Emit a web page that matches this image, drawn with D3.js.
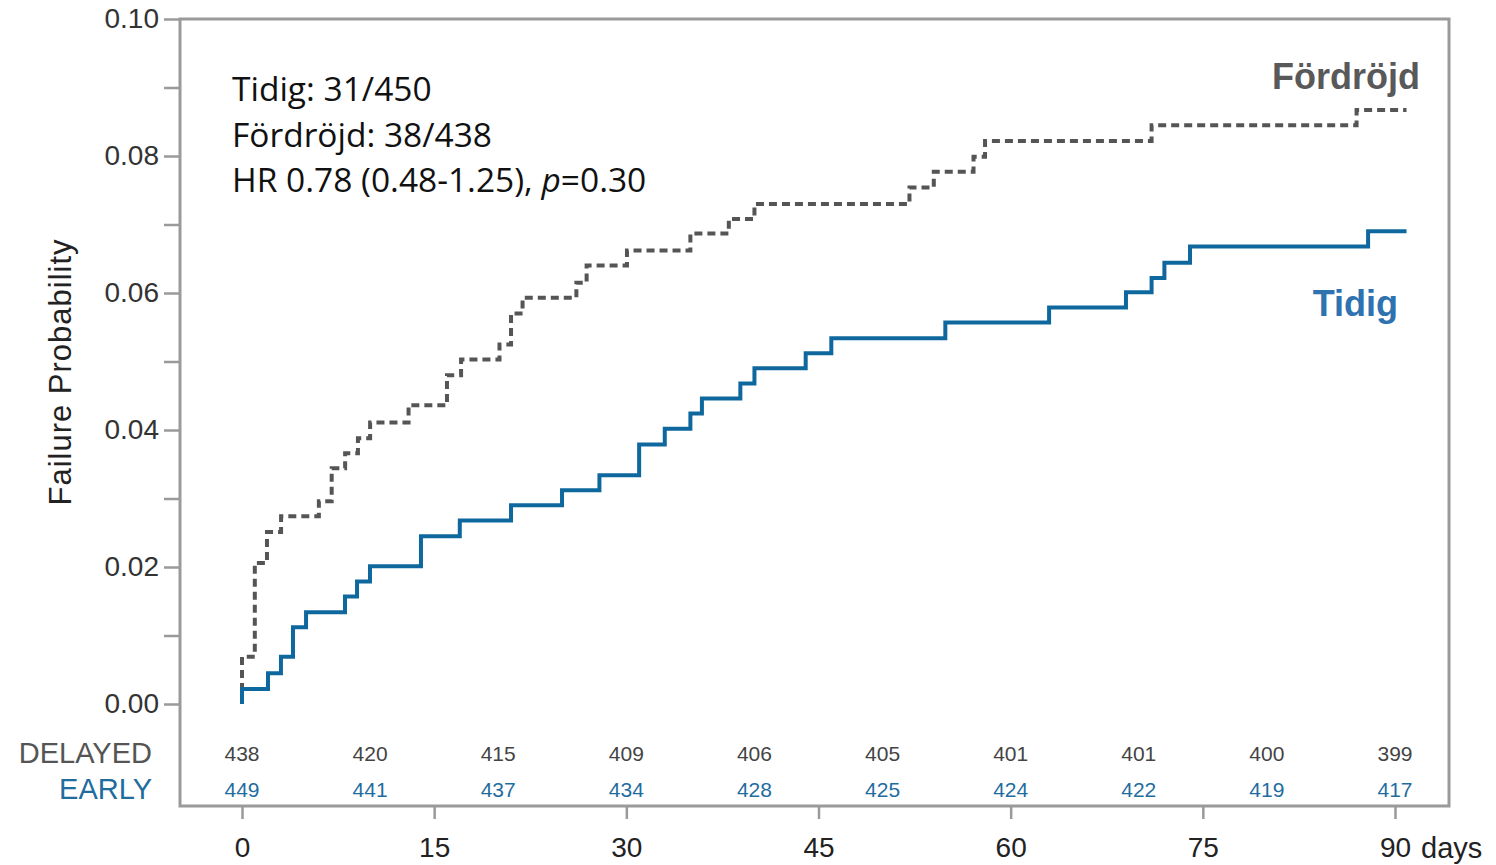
<!doctype html>
<html lang="sv">
<head>
<meta charset="utf-8">
<title>Failure Probability</title>
<script src="https://cdn.jsdelivr.net/npm/d3@7"></script>
<style>
  body { margin: 0; background: #fff; }
  svg text { font-family: "Liberation Sans", Arial, sans-serif; }
</style>
</head>
<body>
<script>
// Fördröjd (delayed) curve: step times (days) and cumulative failure probability
var delayedDays = [0, 0, 1, 1.95, 3.05, 6, 7, 8.05, 9.05, 10, 13, 16, 17.1, 20.1, 21, 21.9, 26.1, 26.9, 30.05, 35, 38, 40, 52.1, 54, 57.1, 58, 71, 87, 90.9];
var delayedProb = [0, 0.0069, 0.0206, 0.0251, 0.0274, 0.0296, 0.0344, 0.0366, 0.0388, 0.0411, 0.0436, 0.0480, 0.0503, 0.0525, 0.0570, 0.0593, 0.0615, 0.0640, 0.0662, 0.0687, 0.0708, 0.0730, 0.0754, 0.0777, 0.0799, 0.0822, 0.0845, 0.0867, 0.0867];

// Tidig (early) curve
var earlyDays = [0, 0, 2.03, 3.04, 3.98, 5, 8.04, 8.98, 9.99, 13.97, 17, 21, 24.98, 27.9, 31, 33, 35, 35.9, 38.9, 40, 44, 46, 54.9, 63, 69, 71, 72, 74, 87.9, 90.9];
var earlyProb = [0, 0.0022, 0.0045, 0.0069, 0.0112, 0.0134, 0.0157, 0.0179, 0.0201, 0.0245, 0.0268, 0.0290, 0.0312, 0.0334, 0.0379, 0.0402, 0.0424, 0.0446, 0.0468, 0.0490, 0.0512, 0.0534, 0.0557, 0.0579, 0.0601, 0.0622, 0.0644, 0.0668, 0.0690, 0.0690];

// numbers at risk
var riskDays = [0, 10, 20, 30, 40, 50, 60, 70, 80, 90];
var delayedAtRisk = [438, 420, 415, 409, 406, 405, 401, 401, 400, 399];
var earlyAtRisk = [449, 441, 437, 434, 428, 425, 424, 422, 419, 417];

var xTicks = [0, 15, 30, 45, 60, 75, 90];
var yTicks = [0, 0.01, 0.02, 0.03, 0.04, 0.05, 0.06, 0.07, 0.08, 0.09, 0.10];
var yLabels = [0, 0.02, 0.04, 0.06, 0.08, 0.10];

var annotation = ["Tidig: 31/450", "Fördröjd: 38/438"];

var W = 1496, H = 865;
var frame = {left: 180, top: 19, right: 1449, bottom: 806};

var blue = "#0f689d";
var grey = "#555555";

var svg = d3.select("body")
            .append("svg")
            .attr("width", W)
            .attr("height", H);

var xScale = d3.scaleLinear()
               .domain([0, 90])
               .range([242, 1395]);

var yScale = d3.scaleLinear()
               .domain([0, 0.10])
               .range([704, 19]);

// frame
svg.append("rect")
   .attr("x", frame.left)
   .attr("y", frame.top)
   .attr("width", frame.right - frame.left)
   .attr("height", frame.bottom - frame.top)
   .attr("fill", "none")
   .attr("stroke", "#9a9a9a")
   .attr("stroke-width", 3);

// y axis
var yAxis = d3.axisLeft(yScale)
              .tickValues(yTicks)
              .tickSize(16)
              .tickPadding(5)
              .tickFormat(d => yLabels.some(v => Math.abs(v - d) < 1e-9) ? d3.format(".2f")(d) : "");

var gy = svg.append("g")
            .attr("transform", "translate(" + frame.left + ",0)")
            .call(yAxis);
gy.select(".domain").remove();
gy.selectAll(".tick line").attr("stroke", "#9a9a9a").attr("stroke-width", 2.5);
gy.selectAll(".tick text")
  .attr("font-size", 28)
  .attr("fill", "#333")
  .attr("font-family", "Liberation Sans, Arial, sans-serif");

// x axis
var xAxis = d3.axisBottom(xScale)
              .tickValues(xTicks)
              .tickSize(13)
              .tickPadding(18)
              .tickFormat(d => d);

var gx = svg.append("g")
            .attr("transform", "translate(0," + frame.bottom + ")")
            .call(xAxis);
gx.select(".domain").remove();
gx.selectAll(".tick line").attr("stroke", "#9a9a9a").attr("stroke-width", 2.5);
gx.selectAll(".tick text")
  .attr("font-size", 28)
  .attr("fill", "#222")
  .attr("font-family", "Liberation Sans, Arial, sans-serif");

svg.append("text")
   .attr("x", xScale(90) + 26)
   .attr("y", 858)
   .attr("font-size", 29)
   .attr("fill", "#222")
   .text("days");

// y axis title
svg.append("text")
   .attr("transform", "translate(71,372) rotate(-90)")
   .attr("text-anchor", "middle")
   .attr("font-size", 31)
   .attr("letter-spacing", 1)
   .attr("fill", "#222")
   .text("Failure Probability");

// curves
var line = d3.line()
             .x(d => xScale(d[0]))
             .y(d => yScale(d[1]))
             .curve(d3.curveStepAfter);

svg.append("path")
   .attr("d", line(d3.zip(delayedDays, delayedProb)))
   .attr("fill", "none")
   .attr("stroke", grey)
   .attr("stroke-width", 4)
   .attr("stroke-dasharray", "8,5");

svg.append("path")
   .attr("d", line(d3.zip(earlyDays, earlyProb)))
   .attr("fill", "none")
   .attr("stroke", blue)
   .attr("stroke-width", 4);

// curve labels
svg.append("text")
   .attr("x", 1420)
   .attr("y", 89)
   .attr("text-anchor", "end")
   .attr("font-family", "Open Sans, sans-serif")
   .attr("font-weight", "bold")
   .attr("font-size", 36)
   .attr("fill", "#595959")
   .text("Fördröjd");

svg.append("text")
   .attr("x", 1398)
   .attr("y", 316)
   .attr("text-anchor", "end")
   .attr("font-family", "Open Sans, sans-serif")
   .attr("font-weight", "bold")
   .attr("font-size", 36)
   .attr("fill", "#2e72b0")
   .text("Tidig");

// annotation
var ann = svg.append("g")
             .attr("font-family", "Open Sans, sans-serif")
             .attr("font-size", 33.5)
             .attr("fill", "#111");

ann.selectAll("text.line")
   .data(annotation)
   .enter()
   .append("text")
   .attr("class", "line")
   .attr("x", 232)
   .attr("y", (_, i) => 101 + i * 45.5)
   .style("font-family", "Open Sans, sans-serif")
   .text(d => d);

var hr = ann.append("text")
            .attr("x", 232)
            .attr("y", 192)
            .style("font-family", "Open Sans, sans-serif");
hr.append("tspan").text("HR 0.78 (0.48-1.25), ");
hr.append("tspan").attr("font-style", "italic").text("p");
hr.append("tspan").text("=0.30");

// numbers at risk
svg.append("text")
   .attr("x", 152)
   .attr("y", 763)
   .attr("text-anchor", "end")
   .attr("font-size", 29)
   .attr("fill", "#555")
   .text("DELAYED");

svg.append("text")
   .attr("x", 152)
   .attr("y", 799)
   .attr("text-anchor", "end")
   .attr("font-size", 29)
   .attr("fill", "#1f6c9f")
   .text("EARLY");

svg.selectAll("text.riskDelayed")
   .data(d3.zip(riskDays, delayedAtRisk))
   .enter()
   .append("text")
   .attr("class", "riskDelayed")
   .attr("x", d => xScale(d[0]))
   .attr("y", 761)
   .attr("text-anchor", "middle")
   .attr("font-size", 21)
   .attr("fill", "#444")
   .text(d => d[1]);

svg.selectAll("text.riskEarly")
   .data(d3.zip(riskDays, earlyAtRisk))
   .enter()
   .append("text")
   .attr("class", "riskEarly")
   .attr("x", d => xScale(d[0]))
   .attr("y", 797)
   .attr("text-anchor", "middle")
   .attr("font-size", 21)
   .attr("fill", "#1f6c9f")
   .text(d => d[1]);
</script>
</body>
</html>
